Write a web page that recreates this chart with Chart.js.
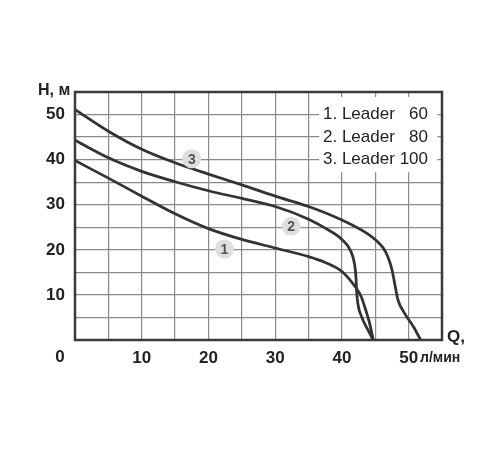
<!DOCTYPE html>
<html>
<head>
<meta charset="utf-8">
<script src="https://cdn.jsdelivr.net/npm/chart.js@4"></script>
<style>
html,body{margin:0;padding:0;background:#fff;}
#wrap{width:500px;height:450px;position:relative;}
</style>
</head>
<body>
<div id="wrap"><canvas id="c" width="500" height="450"></canvas></div>
<script>
// Leader 60
const q1 = [0, 5, 10, 15, 20, 25, 30, 35, 37.5, 40, 41.9, 42.9, 43.6, 44.1, 44.7];
const h1 = [39.8, 35.9, 31.9, 28.0, 24.7, 22.3, 20.4, 18.5, 17.2, 15.2, 12.0, 9.6, 6.5, 4.0, 0];
// Leader 80
const q2 = [0, 5, 10, 15, 20, 25, 30, 35, 37.5, 40, 41.3, 41.9, 42.1, 42.2, 42.4, 43.0, 43.8, 44.7];
const h2 = [44.3, 40.4, 37.4, 35.1, 33.1, 31.4, 29.6, 26.8, 24.8, 22.3, 19.8, 16.8, 14.0, 11.0, 8.0, 5.0, 2.5, 0];
// Leader 100
const q3 = [0, 5, 10, 15, 20, 25, 30, 35, 40, 43.8, 45.2, 46.2, 46.9, 47.5, 47.9, 48.4, 49.4, 50.7, 51.8];
const h3 = [51.1, 46.3, 42.3, 39.3, 36.8, 34.4, 31.9, 29.6, 26.6, 23.6, 22.0, 20.4, 18.4, 15.6, 12.6, 8.9, 5.9, 3.0, 0];

const legendLabels = ['1. Leader', '2. Leader', '3. Leader'];
const legendValues = ['60', '80', '100'];

const bubbleNums = ['1', '2', '3'];
const bubbleQ = [22.4, 32.4, 17.5];
const bubbleH = [20.2, 25.2, 40.2];

const xTickLabels = [10, 20, 30, 40, 50];
const yTickLabels = [10, 20, 30, 40, 50];

const yTitle = 'H, м';
const xTitle1 = 'Q,';
const xTitle2 = 'л/мин';
const originLabel = '0';

const toPts = (qs, hs) => qs.map((q, i) => ({x: q, y: hs[i]}));

const SANS = '"Liberation Sans", Arial, sans-serif';

const extras = {
  id: 'extras',
  beforeDatasetsDraw(chart) {
    const {ctx, scales: {x, y}} = chart;
    ctx.save();
    ctx.fillStyle = '#fff';
    const lx0 = x.getPixelForValue(36.6), lx1 = x.getPixelForValue(54.3);
    const ly0 = y.getPixelForValue(53.9), ly1 = y.getPixelForValue(37.2);
    ctx.fillRect(lx0, ly0, lx1 - lx0, ly1 - ly0);
    ctx.restore();
  },
  afterDraw(chart) {
    const {ctx, chartArea: a, scales: {x, y}} = chart;
    ctx.save();
    ctx.strokeStyle = '#3a3a3a';
    ctx.lineWidth = 2.5;
    ctx.strokeRect(a.left, a.top, a.right - a.left, a.bottom - a.top);
    bubbleNums.forEach((n, i) => {
      const px = x.getPixelForValue(bubbleQ[i]);
      const py = y.getPixelForValue(bubbleH[i]);
      ctx.beginPath();
      ctx.arc(px, py, 9.5, 0, Math.PI * 2);
      ctx.fillStyle = '#dedede';
      ctx.fill();
      ctx.fillStyle = '#555';
      ctx.font = 'bold 14px ' + SANS;
      ctx.textAlign = 'center';
      ctx.textBaseline = 'middle';
      ctx.fillText(n, px, py + 1);
    });
    ctx.fillStyle = '#222';
    ctx.font = '17px ' + SANS;
    ctx.textBaseline = 'middle';
    const lineYs = [50, 45, 40];
    legendLabels.forEach((t, i) => {
      const py = y.getPixelForValue(lineYs[i]);
      ctx.textAlign = 'left';
      ctx.fillText(t, 323, py);
      ctx.textAlign = 'right';
      ctx.fillText(legendValues[i], 428, py);
    });
    ctx.fillStyle = '#222';
    ctx.font = 'bold 16px ' + SANS;
    ctx.textAlign = 'left';
    ctx.fillText(yTitle, 38, a.top - 1);
    ctx.font = 'bold 17px ' + SANS;
    ctx.fillText(xTitle1, 447, a.bottom - 3);
    ctx.font = 'bold 14px ' + SANS;
    ctx.fillText(xTitle2, 420, a.bottom + 18);
    ctx.font = 'bold 17px ' + SANS;
    ctx.textAlign = 'center';
    ctx.fillText(originLabel, 60, a.bottom + 17);
    ctx.restore();
  }
};

const lineStyle = {
  showLine: true,
  pointRadius: 0,
  borderColor: '#333',
  borderWidth: 2.8,
  cubicInterpolationMode: 'monotone',
  fill: false
};

new Chart(document.getElementById('c'), {
  type: 'scatter',
  data: {
    datasets: [
      Object.assign({label: 'Leader 60', data: toPts(q1, h1)}, lineStyle),
      Object.assign({label: 'Leader 80', data: toPts(q2, h2)}, lineStyle),
      Object.assign({label: 'Leader 100', data: toPts(q3, h3)}, lineStyle)
    ]
  },
  options: {
    responsive: false,
    animation: false,
    devicePixelRatio: 1,
    layout: {padding: {top: 92, right: 58, bottom: 80, left: 0}},
    plugins: {legend: {display: false}, tooltip: {enabled: false}},
    scales: {
      x: {
        type: 'linear', min: 0, max: 55,
        afterFit(s) { s.height = 30; },
        border: {display: false},
        grid: {color: '#8a8a8a', lineWidth: 1.2, drawTicks: false},
        ticks: {
          stepSize: 5, padding: 8, color: '#222', maxRotation: 0, autoSkip: false,
          font: {family: SANS, size: 17, weight: 'bold'},
          callback: v => xTickLabels.includes(v) ? String(v) : ''
        }
      },
      y: {
        type: 'linear', min: 0, max: 55,
        afterFit(s) { s.width = 75; },
        border: {display: false},
        grid: {color: '#8a8a8a', lineWidth: 1.2, drawTicks: false},
        ticks: {
          stepSize: 5, padding: 10, color: '#222', autoSkip: false,
          font: {family: SANS, size: 17, weight: 'bold'},
          callback: v => yTickLabels.includes(v) ? String(v) : ''
        }
      }
    }
  },
  plugins: [extras]
});
</script>
</body>
</html>
